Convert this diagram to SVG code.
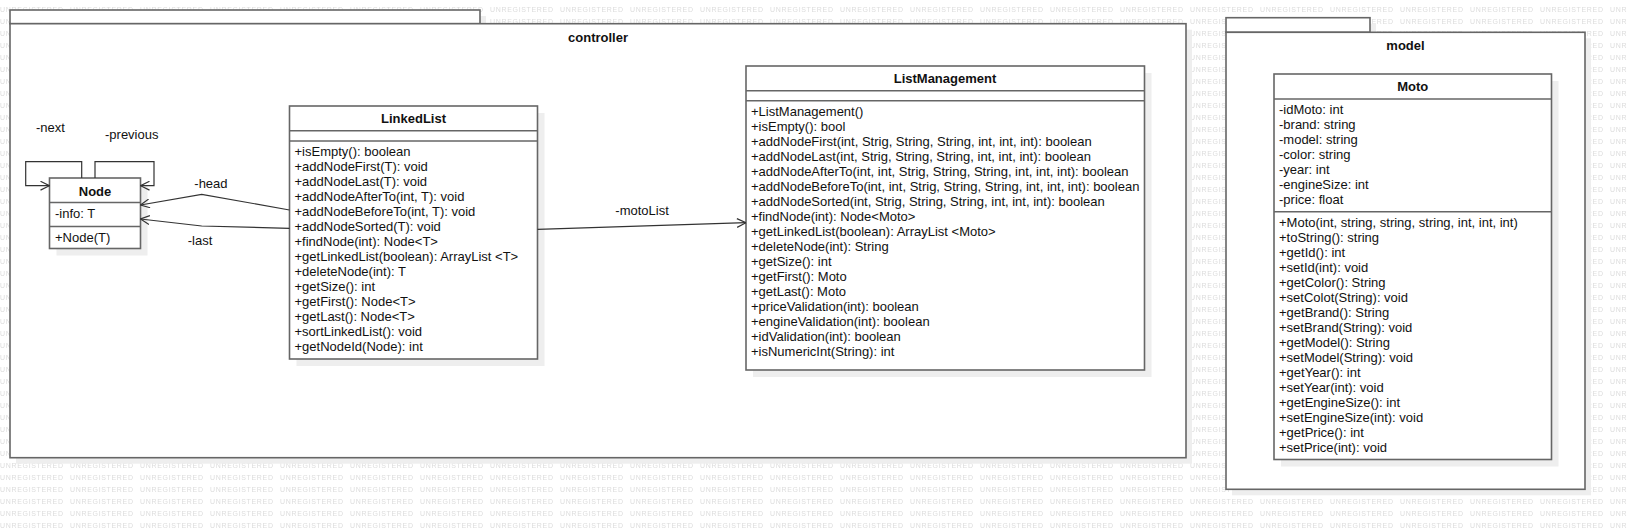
<svg xmlns="http://www.w3.org/2000/svg" width="1627" height="530" viewBox="0 0 1627 530">
<style>
.box{fill:#ffffff;stroke:#666666;stroke-width:1.6}
.sep{stroke:#666666;stroke-width:1.6}
.shadow{fill:#eeeeee}
.t{font-family:"Liberation Sans",Arial,sans-serif;font-size:13px;fill:#111111}
.b{font-family:"Liberation Sans",Arial,sans-serif;font-size:13px;font-weight:bold;fill:#111111;text-anchor:middle}
.wm{font-family:"Liberation Sans",Arial,sans-serif;font-size:7px;fill:#dcdcdc}
.conn{fill:none;stroke:#333333;stroke-width:1.2}
</style>
<defs>
<pattern id="wmPat" x="0" y="0" width="70" height="12" patternUnits="userSpaceOnUse">
<text class="wm" x="0" y="11.6" textLength="63" lengthAdjust="spacing">UNREGISTERED</text>
</pattern>
<marker id="open" viewBox="0 0 10 10" refX="9.5" refY="5" markerWidth="10" markerHeight="10" markerUnits="userSpaceOnUse" orient="auto">
<path d="M0.5,0.6 L9.5,5 L0.5,9.4" fill="none" stroke="#333333" stroke-width="1.2"/>
</marker>
</defs>
<rect x="0" y="0" width="1627" height="530" fill="#ffffff"/>
<rect x="0" y="0" width="1627" height="530" fill="url(#wmPat)"/>

<g id="controller">
<rect class="shadow" x="16" y="16" width="470" height="13.7"/>
<rect class="shadow" x="16" y="29.7" width="1176" height="434"/>
<rect class="box" x="10" y="10" width="470" height="13.7"/>
<rect class="box" x="10" y="23.7" width="1176" height="434"/>
<text class="b" x="598" y="41.5">controller</text>
</g>

<g id="model">
<rect class="shadow" x="1232" y="23.7" width="144" height="14.6"/>
<rect class="shadow" x="1232" y="38.3" width="359" height="457"/>
<rect class="box" x="1226" y="17.7" width="144" height="14.6"/>
<rect class="box" x="1226" y="32.3" width="359" height="457"/>
<text class="b" x="1405.5" y="50">model</text>
</g>

<g id="Node">
<rect class="shadow" x="56.5" y="185" width="91" height="70.5"/>
<rect class="box" x="49.5" y="178" width="91" height="70.5"/>
<line class="sep" x1="49.5" y1="202.5" x2="140.5" y2="202.5"/>
<line class="sep" x1="49.5" y1="226.5" x2="140.5" y2="226.5"/>
<text class="b" x="95" y="195.5">Node</text>
<text class="t" x="55" y="218">-info: T</text>
<text class="t" x="55" y="242">+Node(T)</text>
</g>

<g id="LinkedList">
<rect class="shadow" x="296.5" y="113" width="248" height="253"/>
<rect class="box" x="289.5" y="106" width="248" height="253"/>
<line class="sep" x1="289.5" y1="130.7" x2="537.5" y2="130.7"/>
<line class="sep" x1="289.5" y1="141" x2="537.5" y2="141"/>
<text class="b" x="413.5" y="123">LinkedList</text>
<text class="t" x="294.5" y="156"><tspan x="294.5" dy="0">+isEmpty(): boolean</tspan><tspan x="294.5" dy="15">+addNodeFirst(T): void</tspan><tspan x="294.5" dy="15">+addNodeLast(T): void</tspan><tspan x="294.5" dy="15">+addNodeAfterTo(int, T): void</tspan><tspan x="294.5" dy="15">+addNodeBeforeTo(int, T): void</tspan><tspan x="294.5" dy="15">+addNodeSorted(T): void</tspan><tspan x="294.5" dy="15">+findNode(int): Node&lt;T&gt;</tspan><tspan x="294.5" dy="15">+getLinkedList(boolean): ArrayList &lt;T&gt;</tspan><tspan x="294.5" dy="15">+deleteNode(int): T</tspan><tspan x="294.5" dy="15">+getSize(): int</tspan><tspan x="294.5" dy="15">+getFirst(): Node&lt;T&gt;</tspan><tspan x="294.5" dy="15">+getLast(): Node&lt;T&gt;</tspan><tspan x="294.5" dy="15">+sortLinkedList(): void</tspan><tspan x="294.5" dy="15">+getNodeId(Node): int</tspan></text>
</g>

<g id="ListManagement">
<rect class="shadow" x="753" y="73" width="398.5" height="304"/>
<rect class="box" x="746" y="66" width="398.5" height="304"/>
<line class="sep" x1="746" y1="90.7" x2="1144.5" y2="90.7"/>
<line class="sep" x1="746" y1="100.7" x2="1144.5" y2="100.7"/>
<text class="b" x="945" y="83">ListManagement</text>
<text class="t" x="751" y="116"><tspan x="751" dy="0">+ListManagement()</tspan><tspan x="751" dy="15">+isEmpty(): bool</tspan><tspan x="751" dy="15">+addNodeFirst(int, Strig, String, String, int, int, int): boolean</tspan><tspan x="751" dy="15">+addNodeLast(int, Strig, String, String, int, int, int): boolean</tspan><tspan x="751" dy="15">+addNodeAfterTo(int, int, Strig, String, String, int, int, int): boolean</tspan><tspan x="751" dy="15">+addNodeBeforeTo(int, int, Strig, String, String, int, int, int): boolean</tspan><tspan x="751" dy="15">+addNodeSorted(int, Strig, String, String, int, int, int): boolean</tspan><tspan x="751" dy="15">+findNode(int): Node&lt;Moto&gt;</tspan><tspan x="751" dy="15">+getLinkedList(boolean): ArrayList &lt;Moto&gt;</tspan><tspan x="751" dy="15">+deleteNode(int): String</tspan><tspan x="751" dy="15">+getSize(): int</tspan><tspan x="751" dy="15">+getFirst(): Moto</tspan><tspan x="751" dy="15">+getLast(): Moto</tspan><tspan x="751" dy="15">+priceValidation(int): boolean</tspan><tspan x="751" dy="15">+engineValidation(int): boolean</tspan><tspan x="751" dy="15">+idValidation(int): boolean</tspan><tspan x="751" dy="15">+isNumericInt(String): int</tspan></text>
</g>

<g id="Moto">
<rect class="shadow" x="1281" y="81" width="277.5" height="385.5"/>
<rect class="box" x="1274" y="74" width="277.5" height="385.5"/>
<line class="sep" x1="1274" y1="99" x2="1551.5" y2="99"/>
<line class="sep" x1="1274" y1="211.7" x2="1551.5" y2="211.7"/>
<text class="b" x="1412.7" y="91">Moto</text>
<text class="t" x="1279" y="114"><tspan x="1279" dy="0">-idMoto: int</tspan><tspan x="1279" dy="15">-brand: string</tspan><tspan x="1279" dy="15">-model: string</tspan><tspan x="1279" dy="15">-color: string</tspan><tspan x="1279" dy="15">-year: int</tspan><tspan x="1279" dy="15">-engineSize: int</tspan><tspan x="1279" dy="15">-price: float</tspan></text>
<text class="t" x="1279" y="227"><tspan x="1279" dy="0">+Moto(int, string, string, string, int, int, int)</tspan><tspan x="1279" dy="15">+toString(): string</tspan><tspan x="1279" dy="15">+getId(): int</tspan><tspan x="1279" dy="15">+setId(int): void</tspan><tspan x="1279" dy="15">+getColor(): String</tspan><tspan x="1279" dy="15">+setColot(String): void</tspan><tspan x="1279" dy="15">+getBrand(): String</tspan><tspan x="1279" dy="15">+setBrand(String): void</tspan><tspan x="1279" dy="15">+getModel(): String</tspan><tspan x="1279" dy="15">+setModel(String): void</tspan><tspan x="1279" dy="15">+getYear(): int</tspan><tspan x="1279" dy="15">+setYear(int): void</tspan><tspan x="1279" dy="15">+getEngineSize(): int</tspan><tspan x="1279" dy="15">+setEngineSize(int): void</tspan><tspan x="1279" dy="15">+getPrice(): int</tspan><tspan x="1279" dy="15">+setPrice(int): void</tspan></text>
</g>

<g id="connectors">
<path class="conn" d="M81.7,178 L81.7,161.7 L25.7,161.7 L25.7,185.7 L49.5,185.7" marker-end="url(#open)"/>
<path class="conn" d="M95,178 L95,161.7 L154,161.7 L154,185.7 L140.5,185.7" marker-end="url(#open)"/>
<path class="conn" d="M289.5,210 L201.7,194.3 L140.5,205" marker-end="url(#open)"/>
<path class="conn" d="M289.5,228.3 L201.7,226 L140.5,219" marker-end="url(#open)"/>
<path class="conn" d="M537.5,229.3 L746,222.7" marker-end="url(#open)"/>
<text class="t" x="36" y="132">-next</text>
<text class="t" x="105" y="139">-previous</text>
<text class="t" x="194.3" y="188">-head</text>
<text class="t" x="187.7" y="244.5">-last</text>
<text class="t" x="615.3" y="215">-motoList</text>
</g>
</svg>
